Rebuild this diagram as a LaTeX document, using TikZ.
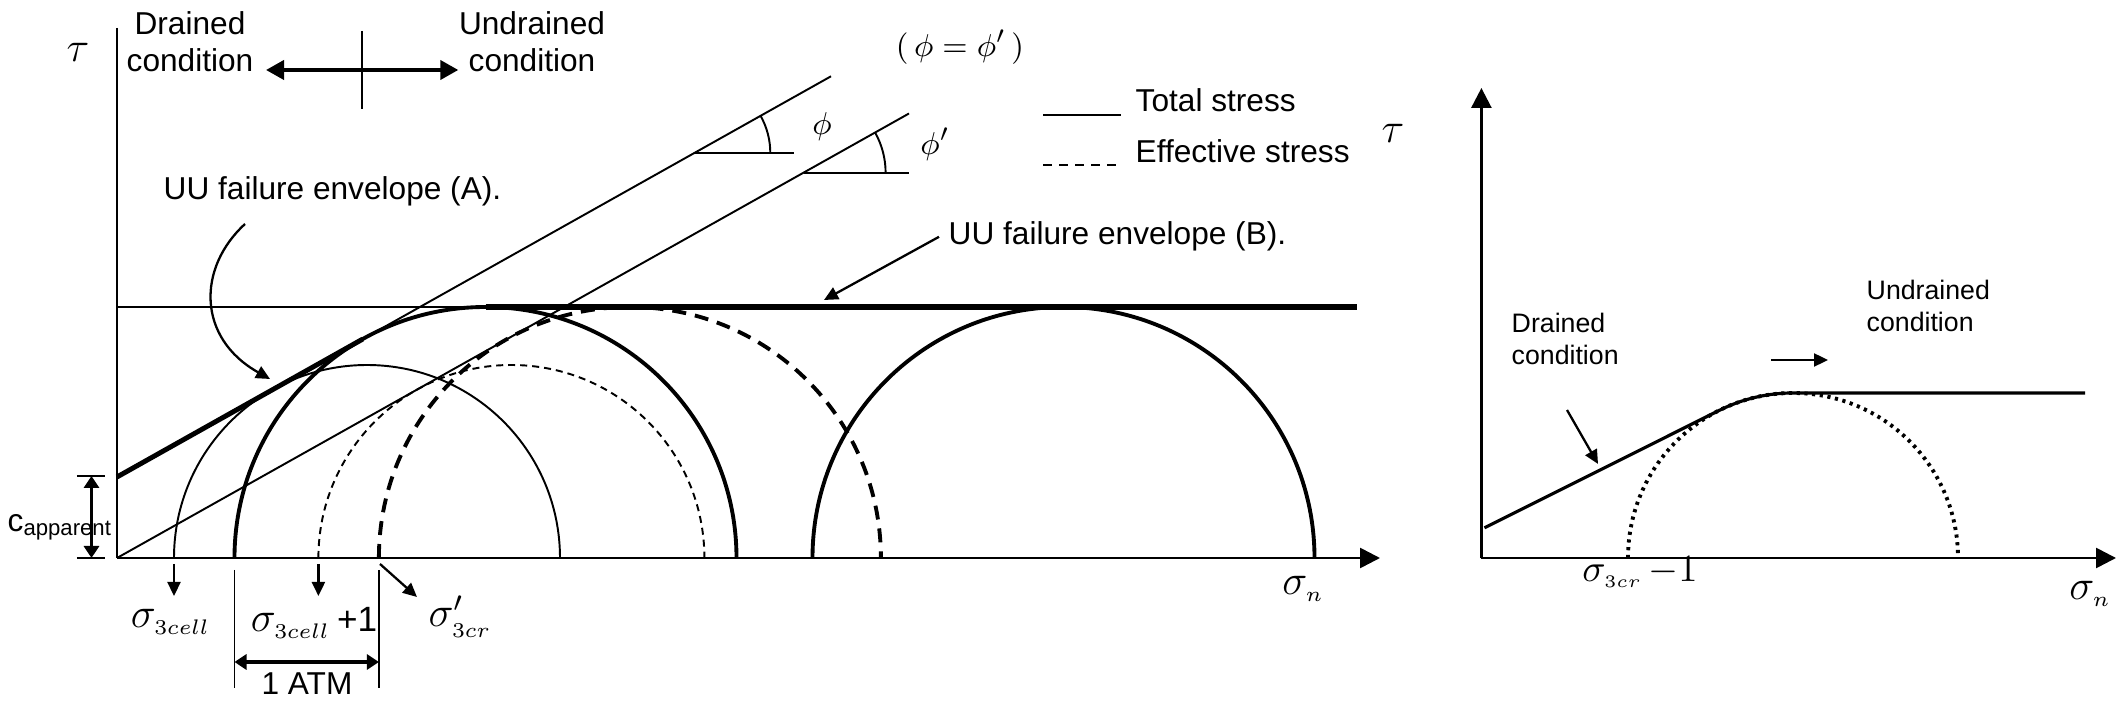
\documentclass[tikz,border=0pt]{standalone}
\usepackage{fontspec}
\newfontfamily\lsans{Liberation Sans}
\usetikzlibrary{arrows.meta}

\begin{document}
\begin{tikzpicture}[
  thinl/.style={line width=0.55pt},
  thickl/.style={line width=1.1pt},
  axisl/.style={line width=0.75pt},
  tdash/.style={line width=0.55pt, dash pattern=on 0.07cm off 0.05cm},
  kdash/.style={line width=1.1pt, dash pattern=on 0.14cm off 0.09cm},
  dotc/.style={line width=1.1pt, dash pattern=on 0.9pt off 1.3pt},
  axarr/.style={axisl, -{Triangle[length=2mm, width=2mm]}},
  arr/.style={-{Triangle[length=1.4mm, width=1.3mm]}, line width=0.65pt},
  darr/.style={{Triangle[length=1.8mm, width=1.9mm]}-{Triangle[length=1.8mm, width=1.9mm]}, line width=1.1pt},
  dim/.style={{Triangle[length=1.2mm, width=1.5mm]}-{Triangle[length=1.2mm, width=1.5mm]}, line width=0.9pt},
  txt/.style={font=\lsans\fontsize{9}{10.5}\selectfont, inner sep=0pt, align=center},
  rtxt/.style={font=\lsans\fontsize{7.6}{9.1}\selectfont, inner sep=0pt, align=left},
  mth/.style={font=\fontsize{12}{14}\selectfont, inner sep=0pt, anchor=base},
  phil/.style={font=\fontsize{9.5}{11}\selectfont, inner sep=0pt, anchor=base},
]
\useasboundingbox (-1.17,-1.64) rectangle (20.05,5.58);

% === Left side: Mohr circles of the UU test ===
\coordinate (O) at (0,0);
\draw[axisl] (0,5.30) -- (O);
\draw[axarr] (O) -- (12.63,0);
\node[mth] (tauL) at (-0.39,4.96) {$\tau$};
\node[mth] (sigL) at (11.86,-0.37) {$\sigma_{\scriptscriptstyle n}$};

% drained / undrained
\node[txt] (drL) at (0.73,5.16) {Drained\\condition};
\node[txt] (udL) at (4.15,5.16) {Undrained\\condition};
\coordinate (split) at (2.45,4.88);
\draw[thinl] (2.45,5.27) -- (2.45,4.49);
\draw[darr, shorten <=1.2mm] (drL.east |- split) -- (udL.west |- split);

% total stress circles
\draw[thinl] (0.57,0) arc[start angle=180, end angle=0, radius=1.93];
\draw[thickl] (1.175,0) arc[start angle=180, end angle=0, radius=2.51];
\draw[thickl] (6.955,0) arc[start angle=180, end angle=0, radius=2.51];
% effective stress circles
\draw[tdash] (2.014,0) arc[start angle=180, end angle=0, radius=1.93];
\draw[kdash] (2.619,0) arc[start angle=180, end angle=0, radius=2.51];

% envelopes
\draw[thinl] (0,2.51) -- (3.685,2.51);
\draw[line width=1.5pt] (3.685,2.51) -- (12.40,2.51);
\draw[thinl] (0,0.81) -- (7.14,4.817);
\draw[line width=1.4pt] (0,0.81) -- (2.457,2.189);
\draw[thinl] (O) -- (7.92,4.445);

% friction angles
\draw[thinl] (5.773,4.05) -- (6.77,4.05);
\draw[thinl] (6.533,4.05) arc[start angle=0, end angle=29.3, radius=0.76];
\node[phil] (phi) at (7.05,4.23) {$\phi$};
\draw[thinl] (6.866,3.853) -- (7.92,3.853);
\draw[thinl] (7.686,3.853) arc[start angle=0, end angle=29.3, radius=0.82];
\node[phil] (phip) at (8.18,4.03) {$\phi'$};
\node[phil] (phieq) at (8.43,5.01) {$(\,\phi=\phi'\,)$};

% legend
\draw[line width=0.7pt] (9.26,4.43) -- (10.04,4.43);
\node[txt, anchor=base west] (tot) at (10.18,4.46) {Total stress};
\draw[line width=0.7pt, dash pattern=on 0.09cm off 0.07cm] (9.26,3.93) -- (10.04,3.93);
\node[txt, anchor=base west] (eff) at (10.18,3.95) {Effective stress};

% UU envelope labels
\node[txt, anchor=base west] (uuA) at (0.46,3.58) {UU failure envelope (A).};
\draw[arr] (1.28,3.34) .. controls (0.80,2.90) and (0.80,2.20) .. (1.53,1.79);
\node[txt, anchor=base west] (uuB) at (8.31,3.13) {UU failure envelope (B).};
\draw[arr] ([xshift=-0.9mm]uuB.west) -- (7.07,2.58);

% apparent cohesion
\draw[thinl] (-0.40,0.82) -- (-0.12,0.82);
\draw[thinl] (-0.40,0) -- (-0.12,0);
\draw[dim] (-0.255,0.82) -- (-0.255,0);
\node[txt, anchor=base west] (capp) at (-1.10,0.26) {c\raisebox{-1pt}{\fontsize{6.3}{7}\selectfont apparent}};

% confining stresses
\node[mth] (s3c) at (0.535,-0.70) {$\sigma_{\scriptscriptstyle 3cell}$};
\draw[arr] (0.57,-0.06) -- (0.57,-0.38);
\node[mth] (s3c1) at (1.97,-0.74) {$\sigma_{\scriptscriptstyle 3cell}$\,{\lsans\fontsize{10}{12}\selectfont +1}};
\draw[arr] (2.014,-0.06) -- (2.014,-0.38);
\node[mth] (s3cr) at (3.43,-0.69) {$\sigma'_{\scriptscriptstyle 3cr}$};
\draw[arr] (2.63,-0.06) -- (3.00,-0.39);

% 1 ATM
\draw[thinl] (1.175,-0.12) -- (1.175,-1.30);
\draw[thinl] (2.619,-0.12) -- (2.619,-1.30);
\draw[dim] (1.175,-1.04) -- (2.619,-1.04);
\node[txt, anchor=base] (atm) at (1.90,-1.37) {1 ATM};

% === Right side: combined envelope ===
\node[mth] (tauR) at (12.76,4.15) {$\tau$};
\coordinate (O2) at (13.644,0);
\draw[axarr] (O2) -- (13.644,4.70);
\draw[axarr] (O2) -- (19.99,0);
\node[mth] (sigR) at (19.73,-0.42) {$\sigma_{\scriptscriptstyle n}$};

\draw[dotc] (15.11,0) arc[start angle=180, end angle=0, radius=1.65];
\draw[line width=0.9pt] (13.675,0.302) -- (16.022,1.476) arc[start angle=116.565, end angle=90, radius=1.65] -- (19.68,1.65);

\node[rtxt, anchor=west] (drR) at (13.94,2.19) {Drained\\condition};
\node[rtxt, anchor=west] (udR) at (17.49,2.52) {Undrained\\condition};
\draw[arr] (14.50,1.48) -- (14.81,0.94);
\draw[arr] (16.54,1.98) -- (17.11,1.98);
\node[mth, font=\fontsize{11}{13}\selectfont] (s3crR) at (15.23,-0.24) {$\sigma_{\scriptscriptstyle 3cr}\,{-}1$};
\end{tikzpicture}
\end{document}
